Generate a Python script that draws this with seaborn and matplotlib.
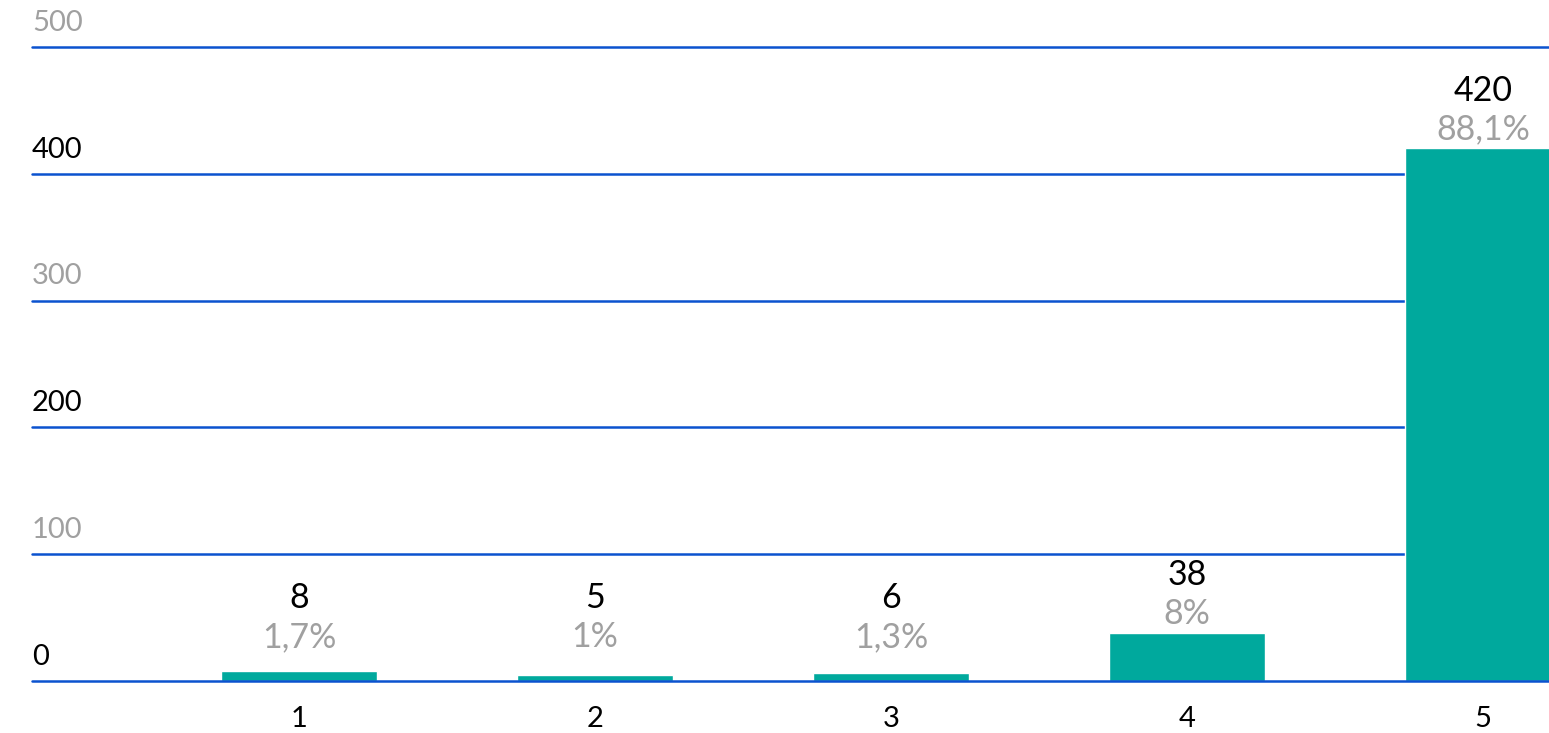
import matplotlib
matplotlib.use('Agg')
import matplotlib.pyplot as plt
import seaborn as sns
import pandas as pd

# values
categories = ['1', '2', '3', '4', '5']
counts = [8, 5, 6, 38, 420]
percents = ['1,7%', '1%', '1,3%', '8%', '88,1%']
yticks = [0, 100, 200, 300, 400, 500]

teal = '#00A99D'
blue = '#0B52CF'
gray = '#A0A0A0'

sns.set_style('white')
plt.rcParams['font.family'] = ['Lato', 'DejaVu Sans']

df = pd.DataFrame({'score': categories, 'count': counts})

fig = plt.figure(figsize=(15.49, 7.33), dpi=100)
ax = fig.add_axes([32 / 1549, 52 / 733, 1 - 32 / 1549, 634 / 733])

sns.barplot(data=df, x='score', y='count', color=teal, width=0.527,
            saturation=1, ax=ax, zorder=3)

ax.set_ylim(0, 500)
ax.set_xlim(-0.902, 4.223)

# gridlines with labels sitting on top of them
for i, t in enumerate(yticks):
    ax.axhline(t, color=blue, lw=1.8, zorder=2 if t else 4, clip_on=False)
    ax.annotate(str(t), xy=(0, t), xycoords=('axes fraction', 'data'),
                xytext=(0, 8), textcoords='offset points',
                ha='left', va='bottom', fontsize=21,
                color='black' if i % 2 == 0 else gray)

# value and share labels above each bar
for i, (c, p) in enumerate(zip(counts, percents)):
    base = max(c, 20)
    ax.annotate(p, xy=(i, base), xytext=(0, 2), textcoords='offset points',
                ha='center', va='bottom', fontsize=24.5, color=gray)
    ax.annotate(str(c), xy=(i, base), xytext=(0, 30), textcoords='offset points',
                ha='center', va='bottom', fontsize=24.5, color='black')

ax.set_yticks([])
ax.tick_params(axis='x', length=0, pad=18, labelsize=21, labelcolor='black')
ax.set_xlabel('')
ax.set_ylabel('')
sns.despine(ax=ax, left=True, bottom=True)

fig.savefig('out.png', dpi=100)
